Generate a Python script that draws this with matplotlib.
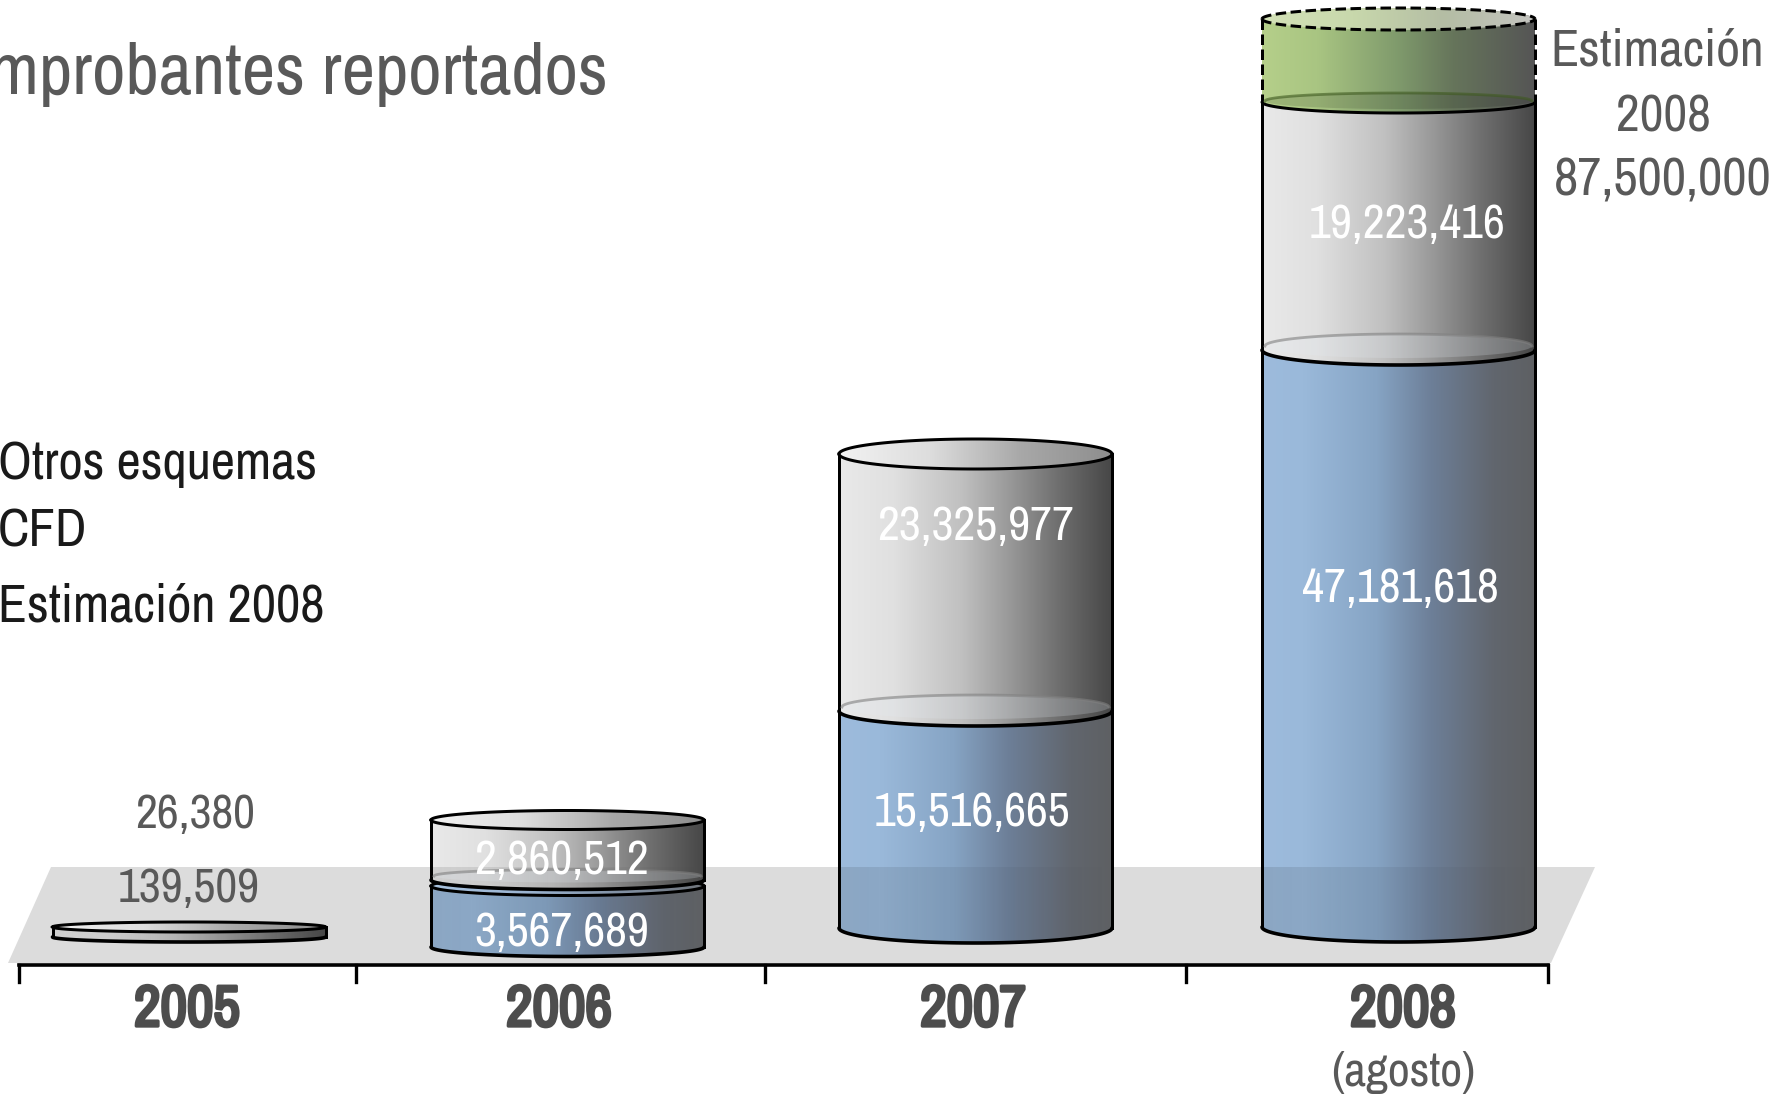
import numpy as np
import matplotlib
matplotlib.use("Agg")
import matplotlib.pyplot as plt
import matplotlib.patheffects as pe
from matplotlib import font_manager as fm
from matplotlib.colors import LinearSegmentedColormap
from matplotlib.patches import Polygon

# Arial Narrow look: first narrow family that exists, else plain Liberation Sans made smaller
installed = {f.name for f in fm.fontManager.ttflist}
NARROW = next((n for n in ["Liberation Sans Narrow", "Archivo Narrow", "PT Sans Narrow", "Pragati Narrow"] if n in installed), None)
FONT_SCALE = 1.0 if NARROW else 0.82
plt.rcParams['font.family'] = [NARROW or 'Liberation Sans', 'DejaVu Sans']

# Data: labels as printed, drawn heights (not proportional in the original)
years = ["2005", "2006", "2007", "2008"]
cfd_labels = ["139,509", "3,567,689", "15,516,665", "47,181,618"]
otros_labels = ["26,380", "2,860,512", "23,325,977", "19,223,416"]
estimate_label = ["Estimación", "2008", "87,500,000"]
legend_labels = ["Otros esquemas", "CFD", "Estimación 2008"]
cfd_heights = [0, 61, 217, 577]
otros_heights = [10, 60, 257, 248]
estimate_height = 83

# Layout in pixels
W, H = 1779, 1096
bases = [937, 947, 928, 927]
centers = [189, 567.5, 975.5, 1398.5]
half_w = 136.5
gaps = [0, 6, 0, 0]
rx = [5, 9.5, 15, 15]
tick_x = [19, 356, 765, 1186, 1548]
floor_xy = [(51, 867), (1595, 867), (1551, 963), (8, 963)]

blue = LinearSegmentedColormap.from_list("b", [(0, "#9dbbdc"), (0.15, "#9ab9da"), (0.42, "#86a4c4"), (0.62, "#6d7f98"), (0.85, "#61666e"), (1, "#5e6063")])
grey = LinearSegmentedColormap.from_list("g", [(0, "#e9e9e9"), (0.2, "#e0e0e0"), (0.45, "#c0c0c0"), (0.62, "#9a9a9a"), (0.8, "#707070"), (1, "#474747")])
green = LinearSegmentedColormap.from_list("e", [(0, "#b5cf8a"), (0.2, "#a9c582"), (0.5, "#7f9a6c"), (0.7, "#66755b"), (1, "#555555")])
grey_top = LinearSegmentedColormap.from_list("gt", ["#f2f2f2", "#dddddd", "#a8a8a8", "#8e8e8e"])
green_top = LinearSegmentedColormap.from_list("et", ["#d4e2b8", "#c8d8ac", "#b4bda4", "#c4c4c0"])
blue_top = LinearSegmentedColormap.from_list("bt", ["#a9c3df", "#9cb5d2", "#8494a8", "#70757c"])

fig = plt.figure(figsize=(W / 100, H / 100), dpi=100)
ax = fig.add_axes([0, 0, 1, 1])
ax.axis("off")
GRAD = np.linspace(0, 1, 256).reshape(1, -1)
SHADE = np.zeros((1, 256, 4))
SHADE[0, :, 3] = np.linspace(0.11, 0.0, 256)


def arc(xc, yc, b, front=True, n=80):
    t = np.linspace(np.pi, 0, n)
    sign = 1 if front else -1
    return xc + half_w * np.cos(t), yc + sign * b * np.sin(t)


def fill_gradient(poly_xy, xc, cmap):
    patch = Polygon(poly_xy, closed=True, transform=ax.transData)
    im = ax.imshow(GRAD, cmap=cmap, extent=[xc - half_w, xc + half_w, H, 0], aspect="auto", zorder=2)
    im.set_clip_path(patch)
    return patch


def body(xc, top, bottom, b, cmap, ls="-", lw=3.0, arc_lw=3.6):
    xf, yf = arc(xc, bottom, b)
    xb, yb = arc(xc, top, b, front=False)
    xy = np.r_[np.c_[xf, yf], np.c_[xb[::-1], yb[::-1]]]
    patch = fill_gradient(xy, xc, cmap)
    # floor seen through the cylinder, fades out on the dark side
    shade = ax.imshow(SHADE, extent=[xc - half_w, xc + half_w, H, floor_xy[0][1]], aspect="auto", zorder=2)
    shade.set_clip_path(patch)
    ax.plot([xc - half_w, xc - half_w], [top, bottom], color="black", lw=lw * 0.72, ls=ls, zorder=2)
    ax.plot([xc + half_w, xc + half_w], [top, bottom], color="black", lw=lw * 0.72, ls=ls, zorder=2)
    ax.plot(xf, yf, color="black", lw=arc_lw * 0.72, zorder=2, solid_capstyle="round")


def top_cap(xc, y, b, cmap, ls="-", lw=3.0):
    xf, yf = arc(xc, y, b)
    xb, yb = arc(xc, y, b, front=False)
    fill_gradient(np.r_[np.c_[xf, yf], np.c_[xb[::-1], yb[::-1]]], xc, cmap)
    ax.plot(xf, yf, color="black", lw=lw * 0.72, ls=ls, zorder=2)
    ax.plot(xb, yb, color="black", lw=lw * 0.72, ls=ls, zorder=2)


def joint(xc, y, b, edge, tint="#e4ebf3", fill_alpha=0.22):
    # see-through ring where one segment sits on the one below
    t = np.linspace(0, 2 * np.pi, 120)
    x = xc + (half_w - 3) * np.cos(t)
    yy = y - 4 - (b - 3) * np.sin(t)
    ax.fill(x, yy, color=tint, alpha=fill_alpha, lw=0, zorder=2)
    t = np.linspace(0, np.pi, 60)
    ax.plot(xc + (half_w - 3) * np.cos(t), y - 4 - (b - 3) * np.sin(t), color=edge, alpha=0.6, lw=2.0, zorder=2)


ax.add_patch(Polygon(floor_xy, closed=True, fc="#dcdcdc", ec="none", zorder=1))

for i in range(4):
    xc, base, b = centers[i], bases[i], rx[i]
    cfd_top = base - cfd_heights[i]
    if cfd_heights[i] > 0:
        body(xc, cfd_top, base, b, blue)
        if gaps[i]:
            top_cap(xc, cfd_top, b, blue_top)
        otros_bottom = cfd_top - gaps[i]
    else:
        otros_bottom = base
    otros_top = otros_bottom - otros_heights[i]
    body(xc, otros_top, otros_bottom, b, grey)
    if cfd_heights[i] > 0:
        joint(xc, otros_bottom, b, "#808080")
    if i < 3:
        top_cap(xc, otros_top, b, grey_top)
    else:
        est_top = otros_top - estimate_height
        body(xc, est_top, otros_top, 11, green, ls=(0, (3.5, 1.5)), arc_lw=3.0)
        joint(xc, otros_top + 3, 11, "#3f5a20", tint="black", fill_alpha=0.12)
        top_cap(xc, est_top, 11, green_top, ls=(0, (3.5, 1.5)))

# Axis line and ticks
ax.plot([tick_x[0], tick_x[-1]], [965, 965], color="black", lw=2.6, zorder=3)
for x in tick_x:
    ax.plot([x, x], [965, 982], color="black", lw=2.4, zorder=3)

GREY_TXT = "#595959"
px = 0.72 * FONT_SCALE  # pixels to points at dpi 100


def label(x, y, s, size=48, color=GREY_TXT, **kw):
    return ax.text(x, y, s, fontsize=size * px, color=color, ha="center", va="center_baseline", zorder=5, **kw)


# Values on the bars
label(195, 810, otros_labels[0])
label(189, 884, cfd_labels[0])
label(561.5, 856, otros_labels[1], color="white")
label(561.5, 928, cfd_labels[1], color="white")
label(976, 522, otros_labels[2], color="white")
label(972, 809, cfd_labels[2], color="white")
label(1407, 220, otros_labels[3], color="white")
label(1400, 585, cfd_labels[3], color="white")

# Estimate note
label(1657, 47, estimate_label[0], size=52)
label(1663, 113, estimate_label[1], size=52)
label(1663, 176, estimate_label[2], size=53)

# Title and legend, cut by the left edge
ax.text(608, 68, "mprobantes reportados", fontsize=73 * px, color=GREY_TXT, ha="right", va="center_baseline", zorder=5)
for y, s in zip([459, 527, 602], legend_labels):
    ax.text(-2, y, s, fontsize=53 * px, color="#1a1a1a", ha="left", va="center_baseline", zorder=5)

# Years, stroked since the narrow family has no bold cut
for x, s in zip([187, 559, 973, 1403], years):
    t = label(x, 1005, s, size=58, color="#4d4d4d")
    t.set_path_effects([pe.withStroke(linewidth=2.4, foreground="#4d4d4d")])
label(1403, 1068, "(agosto)", size=48)

ax.set_xlim(0, W)
ax.set_ylim(H, 0)
fig.savefig("out.png", dpi=100)
